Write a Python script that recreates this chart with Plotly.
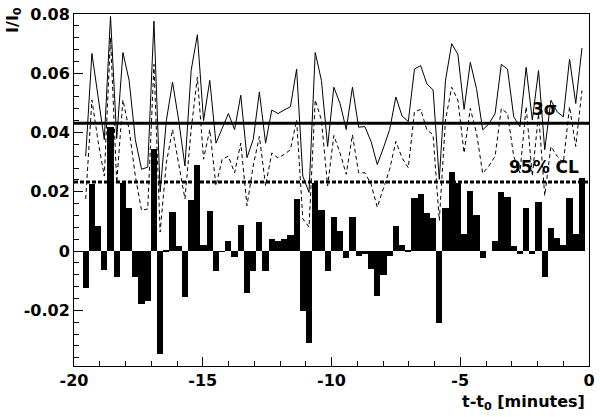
import numpy as np
import plotly.graph_objects as go

# ---- data ----
t_first_edge = -19.666   # minutes, left edge of first bin
bin_width = 0.2409       # minutes

ratio = [
    -0.0124, 0.0226, 0.0084, -0.0063, 0.0420, -0.0086, 0.0231, 0.0144, -0.0089, -0.0180,
    -0.0167, 0.0345, -0.0348, 0.0004, 0.0133, 0.0017, -0.0156, 0.0173, 0.0292, 0.0020,
    0.0134, -0.0066, -0.0003, 0.0034, -0.0021, 0.0087, -0.0141, -0.0069, 0.0098, -0.0067,
    0.0042, 0.0033, 0.0042, 0.0053, 0.0176, -0.0202, -0.0311, 0.0231, 0.0137, -0.0069,
    0.0115, 0.0067, -0.0022, 0.0114, -0.0016, -0.0011, -0.0061, -0.0151, -0.0080, -0.0016,
    0.0084, 0.0022, 0.0003, 0.0179, 0.0193, 0.0129, 0.0111, -0.0244, 0.0146, 0.0268,
    0.0229, 0.0056, 0.0203, 0.0122, -0.0022, 0.0000, 0.0033, 0.0200, 0.0181, 0.0017,
    -0.0010, 0.0146, -0.0011, 0.0164, -0.0089, 0.0079, 0.0044, 0.0022, 0.0179, 0.0059,
    0.0248,
]

sigma3 = [
    0.0320, 0.0667, 0.0520, 0.0376, 0.0792, 0.0380, 0.0670, 0.0576, 0.0376, 0.0276,
    0.0283, 0.0776, 0.0200, 0.0440, 0.0570, 0.0440, 0.0287, 0.0610, 0.0730, 0.0440,
    0.0576, 0.0364, 0.0414, 0.0464, 0.0410, 0.0526, 0.0315, 0.0376, 0.0537, 0.0364,
    0.0476, 0.0464, 0.0476, 0.0487, 0.0614, 0.0253, 0.0198, 0.0670, 0.0576, 0.0353,
    0.0553, 0.0498, 0.0410, 0.0553, 0.0418, 0.0420, 0.0370, 0.0292, 0.0348, 0.0410,
    0.0520, 0.0456, 0.0437, 0.0614, 0.0626, 0.0564, 0.0544, 0.0242, 0.0576, 0.0700,
    0.0664, 0.0478, 0.0637, 0.0548, 0.0409, 0.0429, 0.0464, 0.0630, 0.0614, 0.0453,
    0.0420, 0.0620, 0.0442, 0.0609, 0.0342, 0.0509, 0.0470, 0.0453, 0.0648, 0.0498,
    0.0685,
]

cl95 = [
    0.0176, 0.0510, 0.0370, 0.0253, 0.0720, 0.0230, 0.0510, 0.0410, 0.0253, 0.0137,
    0.0142, 0.0630, 0.0064, 0.0298, 0.0410, 0.0298, 0.0176, 0.0410, 0.0587, 0.0310,
    0.0410, 0.0220, 0.0310, 0.0320, 0.0264, 0.0364, 0.0153, 0.0287, 0.0387, 0.0220,
    0.0331, 0.0314, 0.0326, 0.0342, 0.0442, 0.0109, 0.0081, 0.0510, 0.0442, 0.0220,
    0.0390, 0.0331, 0.0259, 0.0392, 0.0264, 0.0264, 0.0226, 0.0148, 0.0209, 0.0276,
    0.0370, 0.0314, 0.0281, 0.0470, 0.0478, 0.0409, 0.0392, 0.0103, 0.0442, 0.0553,
    0.0509, 0.0331, 0.0481, 0.0398, 0.0262, 0.0287, 0.0320, 0.0481, 0.0464, 0.0320,
    0.0264, 0.0487, 0.0253, 0.0464, 0.0187, 0.0353, 0.0320, 0.0298, 0.0487, 0.0353,
    0.0542,
]

level_3sigma = 0.0431
level_95cl = 0.0233

x_ticks = [-20, -15, -10, -5, 0]
x_ticktext = ["-20", "-15", "-10", "-5", "0"]
y_ticks = [-0.02, 0, 0.02, 0.04, 0.06, 0.08]
y_ticktext = ["-0.02", "0", "0.02", "0.04", "0.06", "0.08"]

# ---- figure ----
centers = t_first_edge + bin_width * (np.arange(len(ratio)) + 0.5)
FONT = "DejaVu Sans"

fig = go.Figure()
fig.add_trace(go.Bar(x=centers, y=ratio, width=bin_width,
                     marker=dict(color="black", line=dict(width=0)),
                     showlegend=False))
fig.add_trace(go.Scatter(x=centers, y=cl95, mode="lines",
                         line=dict(color="black", width=1, dash="4px,3px"),
                         showlegend=False))
fig.add_trace(go.Scatter(x=centers, y=sigma3, mode="lines",
                         line=dict(color="black", width=1),
                         showlegend=False))
fig.add_trace(go.Scatter(x=[-20, 0], y=[level_3sigma, level_3sigma], mode="lines",
                         line=dict(color="black", width=3), showlegend=False))
fig.add_trace(go.Scatter(x=[-20, 0], y=[level_95cl, level_95cl], mode="lines",
                         line=dict(color="black", width=3, dash="4px,2px"),
                         showlegend=False))

tickfont = dict(family=FONT, size=16, color="black", weight="bold")

fig.update_layout(
    width=600, height=417,
    margin=dict(l=74, r=5, t=12, b=51),
    paper_bgcolor="white", plot_bgcolor="white",
    bargap=0,
    xaxis=dict(range=[-20, 0], tickmode="array", tickvals=x_ticks, ticktext=x_ticktext,
               ticks="inside", ticklen=9, tickwidth=1, tickcolor="black",
               showline=True, mirror=True, linecolor="black", linewidth=1,
               showgrid=False, zeroline=False, tickfont=tickfont,
               minor=dict(tickmode="array", tickvals=list(range(-19, 0)),
                          ticks="inside", ticklen=5, tickcolor="black", showgrid=False)),
    yaxis=dict(range=[-0.0388, 0.08], tickmode="array", tickvals=y_ticks, ticktext=y_ticktext,
               ticks="inside", ticklen=9, tickwidth=1, tickcolor="black",
               showline=True, mirror=True, linecolor="black", linewidth=1,
               showgrid=False, zeroline=False, tickfont=tickfont,
               minor=dict(tickmode="array",
                          tickvals=[round(v, 3) for v in np.arange(-0.036, 0.08, 0.004)],
                          ticks="inside", ticklen=5, tickcolor="black", showgrid=False)),
    annotations=[
        dict(text="t-t<sub>0</sub> [minutes]", xref="paper", yref="paper",
             x=0.996, y=-0.103, xanchor="right", yanchor="middle", showarrow=False,
             font=dict(family=FONT, size=16, color="black", weight="bold")),
        dict(text="I/I<sub>0</sub>", xref="paper", yref="paper",
             x=-0.119, y=1.025, xanchor="center", yanchor="top", textangle=-90,
             showarrow=False,
             font=dict(family=FONT, size=16, color="black", weight="bold")),
        dict(text="3σ", x=-1.73, y=0.048, xref="x", yref="y", showarrow=False,
             font=dict(family=FONT, size=17, color="black", weight="bold")),
        dict(text="95% CL", x=-1.75, y=0.0285, xref="x", yref="y", showarrow=False,
             font=dict(family=FONT, size=17, color="black", weight="bold")),
    ],
)

fig.write_html("out.html",
               config={"displayModeBar": False},
               post_script="document.body.style.margin='0';document.body.style.overflow='hidden';")
